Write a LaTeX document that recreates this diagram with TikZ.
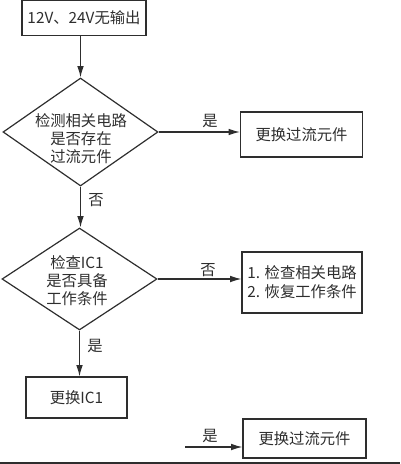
\documentclass[tikz,border=0pt]{standalone}
\usepackage{fontspec}
\setmainfont{Noto Sans CJK SC}
\usetikzlibrary{shapes.geometric,arrows.meta}
\definecolor{ink}{HTML}{2E2E2E}
\tikzset{
  box/.style={draw=ink, line width=0.9pt, rectangle, inner sep=0pt, text=ink, font=\fontsize{11.5}{14}\selectfont},
  dec/.style={draw=ink, line width=0.9pt, diamond, inner sep=0pt},
  dtext/.style={text=ink, align=center, inner sep=0pt, font=\fontsize{11.5}{13.5}\selectfont},
  lbl/.style={text=ink, inner sep=0pt, font=\fontsize{11.5}{14}\selectfont},
  arr/.style={draw=ink, line width=0.9pt, -{Latex[length=8.5pt,width=5pt]}}
}
\begin{document}
\begin{tikzpicture}[x=0.75pt,y=-0.75pt]
\useasboundingbox (0,0) rectangle (400,464);
% nodes
\node[box, minimum width=93pt, minimum height=26.25pt] (top) at (84,18) {12V、24V无输出};
\node[dec, minimum width=116.25pt, minimum height=81pt] (d1) at (80.5,132) {};
\node[dtext] (d1t) at (81,139) {检测相关电路\\是否存在\\过流元件};
\node[box, minimum width=91.5pt, minimum height=33.75pt] (r1) at (301.5,134.5) {更换过流元件};
\node[dec, minimum width=116.25pt, minimum height=76.5pt] (d2) at (79.5,279) {};
\node[dtext] (d2t) at (77,281) {检查IC1\\是否具备\\工作条件};
\node[box, minimum width=90pt, minimum height=45.75pt, align=left, font=\fontsize{11.5}{14.25}\selectfont] (r2) at (302,282.5) {1. 检查相关电路\\2. 恢复工作条件};
\node[box, minimum width=75.75pt, minimum height=30.75pt] (ic) at (76.5,397.5) {更换IC1};
\node[box, minimum width=92.25pt, minimum height=29.25pt] (r3) at (304.5,438.5) {更换过流元件};
\coordinate (s3) at (185,447);
% connectors
\draw[arr] (top.south -| d1.north) -- (d1.north);
\draw[arr] (d1.east) -- (r1.west |- d1.east);
\draw[arr] (d1.south) -- (d2.north -| d1.south);
\draw[arr] (d2.east) -- (r2.west |- d2.east);
\draw[arr] (d2.south) -- (ic.north -| d2.south);
\draw[arr] (s3) -- (r3.west |- s3);
% labels
\node[lbl] (l1) at (210,121) {是};
\node[lbl] (l2) at (96,200) {否};
\node[lbl] (l3) at (208,270) {否};
\node[lbl] (l4) at (95,346) {是};
\node[lbl] (l5) at (210,436) {是};
% bottom edge line
\coordinate (bl) at (0,463);
\coordinate (br) at (400,463);
\draw[ink, line width=1.2pt] (bl) -- (br);
\end{tikzpicture}
\end{document}
